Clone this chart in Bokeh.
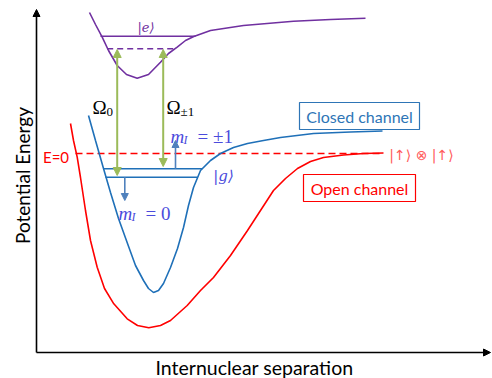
from bokeh.plotting import figure
from bokeh.models import Range1d, Arrow, NormalHead
from bokeh.core.properties import value
from bokeh.embed import file_html
from bokeh.resources import INLINE
import math

# ---- data (diagram coordinates: x to the right, y downward) ----
open_x = [70, 73, 76.7, 80, 85, 90, 96.7, 104, 113.3, 126.7, 137, 148.3, 160, 170, 180, 186.7, 200,
          213, 230, 247, 260, 273, 285, 297, 310, 323, 343, 363, 383]
open_y = [123, 140, 156.7, 177, 210, 240, 266.7, 288, 303.3, 318.3, 325, 327.3, 325, 320, 311, 305, 290,
          277, 255, 230, 210, 190, 178, 168, 161, 157, 154.5, 153, 152.5]

closed_x = [88, 95, 103, 110, 118, 127, 135, 143, 148, 153, 158, 163, 170, 177, 183, 188, 193, 200,
            210, 220, 233, 247, 263, 280, 313, 350, 382]
closed_y = [115, 140, 168, 192, 218, 243, 265, 280, 288, 292, 290, 283, 267, 248, 227, 205, 187, 170,
            160, 153, 147, 143, 140, 137, 133, 131.5, 130.5]

excited_x = [89, 95, 101.7, 108, 116.7, 126, 136.7, 148, 160, 168, 176.7, 185, 193.3, 210, 243, 293, 330, 365]
excited_y = [12, 24, 36.7, 50, 65, 74, 77.7, 74, 61.7, 53, 46.7, 40, 36, 30, 25, 20.7, 19, 17.7]

# bound levels: (x0, x1, y)
e_level = (100, 195, 35.7)
e_virtual = (106.7, 175, 48.3)
g_upper = (102.7, 201.7, 168.3)
g_lower = (105, 197, 176.7)
threshold = (75, 383, 153)

# Raman beams (x, y_top, y_bottom)
omega0 = (116.7, 49, 175)
omega1 = (162.7, 49, 166)
# Zeeman shift arrows (x, y_start, y_end)
mI_up = (175, 168.3, 140)
mI_down = (124.3, 176.7, 200)

# axes
axis_origin = (36, 352)
axis_x_end = 490
axis_y_end = 9

# label boxes (x0, x1, y0, y1)
closed_box = (299, 419, 102, 129)
open_box = (303, 415, 174, 201)

p = figure(width=492, height=378, output_backend="svg", toolbar_location=None,
           x_range=Range1d(0, 492), y_range=Range1d(378, 0),
           x_axis_type=None, y_axis_type=None, min_border=0)
p.grid.visible = False
p.outline_line_color = None
p.background_fill_color = "white"
p.border_fill_color = "white"

RED = "#ff0000"
BLUE = "#1f70b8"
PURPLE = "#7030a0"
GREEN = "#9bbb59"
STEEL = "#4f81bd"
MATHBLUE = "#4b4bdc"

# axes with arrows
ox, oy = axis_origin
p.add_layout(Arrow(end=NormalHead(size=7, fill_color="black", line_color="black"),
                   x_start=ox, y_start=oy, x_end=axis_x_end, y_end=oy,
                   line_color="black", line_width=1.6))
p.add_layout(Arrow(end=NormalHead(size=7, fill_color="black", line_color="black"),
                   x_start=ox, y_start=oy, x_end=ox, y_end=axis_y_end,
                   line_color="black", line_width=1.6))

# threshold
p.line([threshold[0], threshold[1]], [threshold[2]] * 2, line_color=RED, line_width=1.6,
       line_dash="7 4")

# curves
p.line(open_x, open_y, line_color=RED, line_width=1.6)
p.line(closed_x, closed_y, line_color=BLUE, line_width=1.6)
p.line(excited_x, excited_y, line_color=PURPLE, line_width=1.6)

# levels
p.line([e_level[0], e_level[1]], [e_level[2]] * 2, line_color=PURPLE, line_width=1.6)
p.line([e_virtual[0], e_virtual[1]], [e_virtual[2]] * 2, line_color=PURPLE, line_width=1.6,
       line_dash="6 4")
p.line([g_upper[0], g_upper[1]], [g_upper[2]] * 2, line_color=BLUE, line_width=1.6)
p.line([g_lower[0], g_lower[1]], [g_lower[2]] * 2, line_color=BLUE, line_width=1.6)

# Raman arrows
for (ax, yt, yb) in (omega0, omega1):
    p.add_layout(Arrow(start=NormalHead(size=8, fill_color=GREEN, line_color=GREEN),
                       end=NormalHead(size=8, fill_color=GREEN, line_color=GREEN),
                       x_start=ax, y_start=yt, x_end=ax, y_end=yb,
                       line_color=GREEN, line_width=2))
# Zeeman arrows
for (ax, ys, ye) in (mI_up, mI_down):
    p.add_layout(Arrow(end=NormalHead(size=7, fill_color=STEEL, line_color=STEEL),
                       x_start=ax, y_start=ys, x_end=ax, y_end=ye,
                       line_color=STEEL, line_width=1.6))

# boxes
for (bx0, bx1, by0, by1), col in ((closed_box, "#2e75b6"), (open_box, RED)):
    p.quad(left=[bx0], right=[bx1], top=[by0], bottom=[by1], fill_color="white",
           line_color=col, line_width=1.2)


def txt(x, y, s, size, color, font="Lato", style="normal", align="center",
        baseline="middle", angle=0):
    p.text(x=[x], y=[y], text=[s], text_font=value(font), text_font_size=f"{size}px",
           text_color=color, text_font_style=style, text_align=align,
           text_baseline=baseline, angle=angle)


txt(359, 115.5, "Closed channel", 16, "#2e75b6")
txt(359, 187.5, "Open channel", 16, RED)
txt(421, 154.5, "|\u2191\u27e9 \u2297 |\u2191\u27e9", 14, "#ff5c5c", font="DejaVu Sans")
txt(55.5, 156.5, "E=0", 15, RED)
txt(254, 367, "Internuclear separation", 19.5, "black")
txt(22, 175, "Potential Energy", 19, "black", angle=math.pi / 2)

# math labels
txt(92, 107, "\u03a9", 19, "black", font="Liberation Serif", align="left", baseline="alphabetic")
txt(106, 111, "0", 13, "black", font="Liberation Serif", align="left", baseline="alphabetic")
txt(166, 107, "\u03a9", 19, "black", font="Liberation Serif", align="left", baseline="alphabetic")
txt(180, 111, "\u00b11", 13, "black", font="Liberation Serif", align="left", baseline="alphabetic")

txt(145.5, 27, "|e\u27e9", 13, PURPLE, font="DejaVu Serif", style="italic")
txt(223, 175, "|g\u27e9", 15, MATHBLUE, font="DejaVu Serif", style="italic")

txt(170, 136, "m", 19, MATHBLUE, font="Liberation Serif", style="italic", align="left", baseline="alphabetic")
txt(183, 139, "I", 12, MATHBLUE, font="Liberation Serif", style="italic", align="left", baseline="alphabetic")
txt(197, 136, "= \u00b11", 19, MATHBLUE, font="Liberation Serif", align="left", baseline="alphabetic")

txt(118, 213, "m", 19, MATHBLUE, font="Liberation Serif", style="italic", align="left", baseline="alphabetic")
txt(131, 216, "I", 12, MATHBLUE, font="Liberation Serif", style="italic", align="left", baseline="alphabetic")
txt(145, 213, "= 0", 19, MATHBLUE, font="Liberation Serif", align="left", baseline="alphabetic")

open("out.html", "w").write(file_html(p, INLINE))
